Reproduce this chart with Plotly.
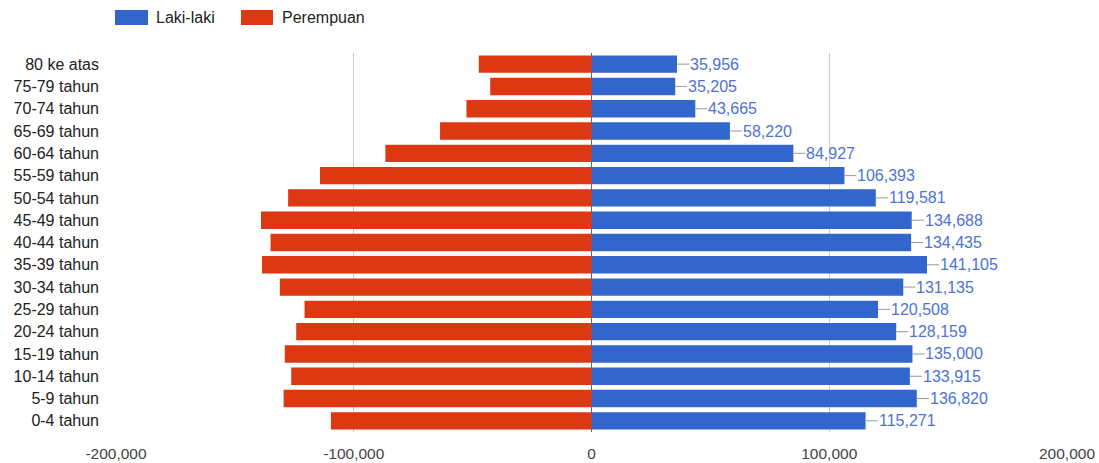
import plotly.graph_objects as go

categories = ["80 ke atas", "75-79 tahun", "70-74 tahun", "65-69 tahun", "60-64 tahun",
              "55-59 tahun", "50-54 tahun", "45-49 tahun", "40-44 tahun", "35-39 tahun",
              "30-34 tahun", "25-29 tahun", "20-24 tahun", "15-19 tahun", "10-14 tahun",
              "5-9 tahun", "0-4 tahun"]
laki_laki = [35956, 35205, 43665, 58220, 84927, 106393, 119581, 134688, 134435, 141105,
             131135, 120508, 128159, 135000, 133915, 136820, 115271]
perempuan = [47400, 42600, 52600, 63700, 86700, 114200, 127600, 139000, 135000, 138600,
             131100, 120700, 124200, 129000, 126300, 129500, 109600]
tick_vals = [-200000, -100000, 0, 100000, 200000]
tick_text = ["-200,000", "-100,000", "0", "100,000", "200,000"]

BLUE = "#3366CC"
RED = "#DC3912"
FONT = "Liberation Sans, Arial, sans-serif"

fig = go.Figure()
fig.add_trace(go.Bar(y=categories, x=laki_laki, orientation="h", name="Laki-laki",
                     marker=dict(color=BLUE, line=dict(width=0)), showlegend=False))
fig.add_trace(go.Bar(y=categories, x=[-v for v in perempuan], orientation="h", name="Perempuan",
                     marker=dict(color=RED, line=dict(width=0)), showlegend=False))

annotations = []
for c, v in zip(categories, laki_laki):
    annotations.append(dict(x=v, y=c, xref="x", yref="y", text=f"{v:,}",
                            showarrow=True, arrowhead=0, arrowwidth=1, arrowcolor="#999999",
                            ax=12, ay=0, xanchor="left", yanchor="middle",
                            font=dict(family=FONT, size=16, color="#4d72d6"), borderpad=0))

# custom legend (positions relative to the plot area: left 116 px, bottom 432 px)
legend_items = [("Laki-laki", BLUE, 115, 148, 154), ("Perempuan", RED, 241, 273, 280)]
shapes = []
for name, col, x0, x1, tx in legend_items:
    shapes.append(dict(type="rect", xref="paper", yref="paper",
                       x0=(x0 - 116) / 951, x1=(x1 - 116) / 951,
                       y0=(432 - 25) / 379, y1=(432 - 10) / 379,
                       fillcolor=col, line=dict(width=0)))
    annotations.append(dict(x=(tx - 116) / 951, y=(432 - 17.5) / 379, xref="paper", yref="paper",
                            text=name, showarrow=False, xanchor="left", yanchor="middle",
                            font=dict(family=FONT, size=16, color="#222222")))

fig.update_layout(
    width=1099, height=463,
    margin=dict(l=116, r=32, t=53, b=31),
    barmode="relative", bargap=0.22,
    plot_bgcolor="white", paper_bgcolor="white",
    font=dict(family=FONT, size=16, color="#222222"),
    annotations=annotations, shapes=shapes,
    xaxis=dict(range=[-200000, 200000], tickvals=tick_vals, ticktext=tick_text,
               showgrid=True, gridcolor="#cccccc", gridwidth=1,
               zeroline=True, zerolinecolor="#666666", zerolinewidth=1,
               tickfont=dict(family=FONT, size=15.5, color="#444444"),
               ticks="", ticklabelstandoff=10, ticklabeloverflow="allow",
               fixedrange=True, automargin=False),
    yaxis=dict(categoryorder="array", categoryarray=categories[::-1],
               tickfont=dict(family=FONT, size=16, color="#222222"),
               ticks="", ticklabelstandoff=16, showgrid=False, zeroline=False,
               automargin=False, fixedrange=True),
)

fig.write_html("out.html",
               config={"displayModeBar": False},
               post_script="document.body.style.margin='0';document.body.style.overflow='hidden';")
